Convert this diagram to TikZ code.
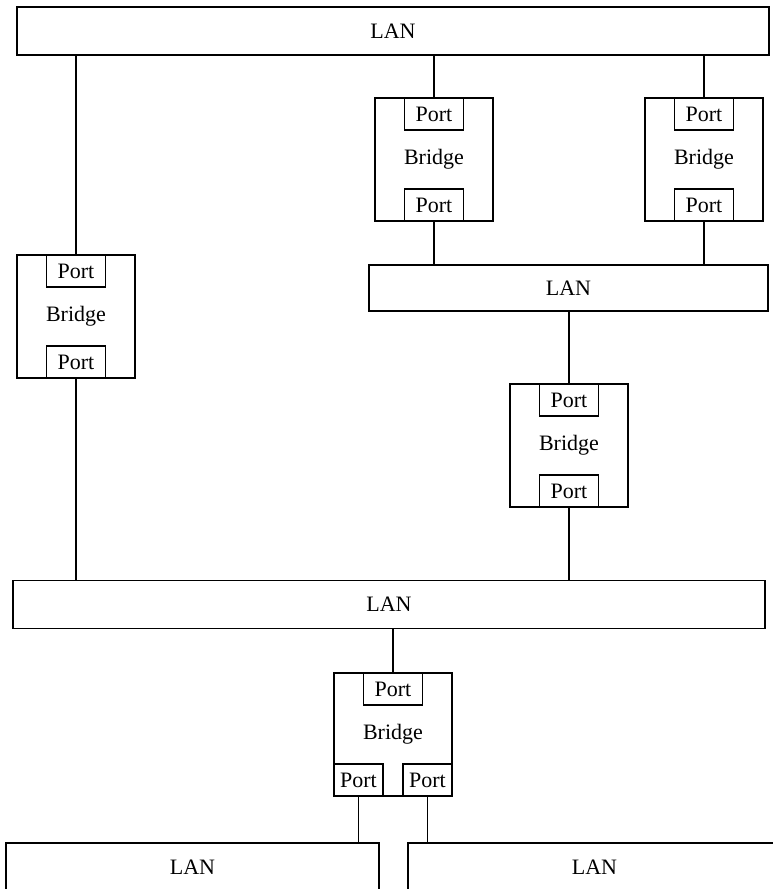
\documentclass[tikz,border=0pt]{standalone}
\usepackage{fontspec}
\setmainfont{Liberation Serif}
\usetikzlibrary{positioning}
\tikzset{
  box/.style      ={draw, line width=1.8pt, inner sep=0pt, align=center,
                    font=\fontsize{22}{26}\selectfont},
  lanbox/.style   ={box, minimum height=48pt},
  bridgebox/.style={box, minimum width=118pt, minimum height=123pt},
  portbox/.style  ={box, minimum width=59pt, minimum height=32pt},
  link/.style     ={line width=1.2pt},
}

\begin{document}
\begin{tikzpicture}[x=1pt, y=-1pt]
  \clip (0,0) rectangle (773,889);

  % LAN segments
  \node[lanbox, minimum width=752pt] (lanA) at (393,31) {LAN};
  \node[lanbox, minimum width=399pt, minimum height=46pt] (lanB) at (568.5,288) {LAN};
  \node[lanbox, minimum width=752pt] (lanC) at (389,604.5) {LAN};
  \node[lanbox, minimum width=373pt] (lanD) at (192.5,867) {LAN};
  \node[lanbox, minimum width=373pt] (lanE) at (594.5,867) {LAN};

  % bridges with their ports
  \node[bridgebox] (b1) at (76,316.5) {Bridge};
  \node[portbox, below=0pt of b1.north] (b1p1) {Port};
  \node[portbox, above=0pt of b1.south] (b1p2) {Port};

  \node[bridgebox] (b2) at (434,159.5) {Bridge};
  \node[portbox, below=0pt of b2.north] (b2p1) {Port};
  \node[portbox, above=0pt of b2.south] (b2p2) {Port};

  \node[bridgebox] (b3) at (704,159.5) {Bridge};
  \node[portbox, below=0pt of b3.north] (b3p1) {Port};
  \node[portbox, above=0pt of b3.south] (b3p2) {Port};

  \node[bridgebox] (b4) at (569,445.5) {Bridge};
  \node[portbox, below=0pt of b4.north] (b4p1) {Port};
  \node[portbox, above=0pt of b4.south] (b4p2) {Port};

  \node[bridgebox] (b5) at (393,734.5) {Bridge};
  \node[portbox, below=0pt of b5.north] (b5p1) {Port};
  \node[portbox, minimum width=49pt, above right=0pt of b5.south west] (b5p2) {Port};
  \node[portbox, minimum width=49pt, above left=0pt of b5.south east] (b5p3) {Port};

  % links
  \draw[link] (b1p1.north) -- (b1p1.north |- lanA.south);
  \draw[link] (b1p2.south) -- (b1p2.south |- lanC.north);
  \draw[link] (b2p1.north) -- (b2p1.north |- lanA.south);
  \draw[link] (b2p2.south) -- (b2p2.south |- lanB.north);
  \draw[link] (b3p1.north) -- (b3p1.north |- lanA.south);
  \draw[link] (b3p2.south) -- (b3p2.south |- lanB.north);
  \draw[link] (b4p1.north) -- (b4p1.north |- lanB.south);
  \draw[link] (b4p2.south) -- (b4p2.south |- lanC.north);
  \draw[link] (b5p1.north) -- (b5p1.north |- lanC.south);
  \draw[link] (b5p2.south) -- (b5p2.south |- lanD.north);
  \draw[link] (b5p3.south) -- (b5p3.south |- lanE.north);
\end{tikzpicture}
\end{document}
